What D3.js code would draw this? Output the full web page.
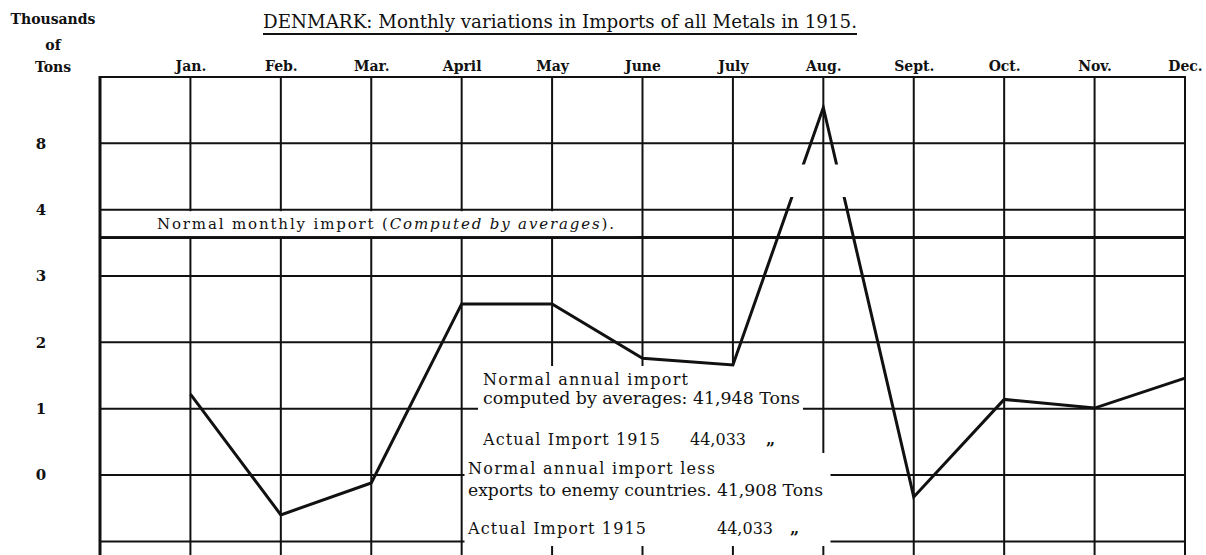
<!DOCTYPE html>
<html>
<head>
<meta charset="utf-8">
<script src="https://cdn.jsdelivr.net/npm/d3@7"></script>
<style>
	body { margin: 0; background: #fff; }
	svg { display: block; }
	text { fill: #111; font-family: "DejaVu Serif", "Liberation Serif", serif; }
</style>
</head>
<body>
<script>

// values are read in grid units (one unit = one grid row)
var months      = ["Jan.", "Feb.", "Mar.", "April", "May", "June", "July", "Aug.", "Sept.", "Oct.", "Nov.", "Dec."];
var imports     = [1.22, -0.60, -0.12, 2.58, 2.58, 1.76, 1.66, 5.54, -0.33, 1.14, 1.01, 1.46];
var tickValues  = [0, 1, 2, 3, 4, 5];
var tickLabels  = ["0", "1", "2", "3", "4", "8"];
var gridValues  = [-1, 0, 1, 2, 3, 4, 5, 6];
var normalMonthly = 3.58;
var breakBand   = [4.19, 4.68];

var title = "DENMARK: Monthly variations in Imports of all Metals in 1915.";
var unitLabel = ["Thousands", "of", "Tons"];
var noteTop = ["Normal annual import", "computed by averages: 41,948 Tons", "Actual Import 1915", "44,033", "\u201e"];
var noteBottom = ["Normal annual import less", "exports to enemy countries. 41,908 Tons", "Actual Import 1915", "44,033", "\u201e"];

var width = 1206,
	height = 555;

var svg = d3.select("body")
	.append("svg")
	.attr("width", width)
	.attr("height", height);

var x = d3.scaleLinear().domain([-1, 11]).range([100, 1185]);
var y = d3.scaleLinear().domain([-1, 6]).range([541.4, 77]);

var ink = "#111";

// grid
var grid = svg.append("g").attr("class", "grid");

grid.selectAll("line.h")
	.data(gridValues)
	.enter()
	.append("line")
	.attr("class", "h")
	.attr("x1", x(-1))
	.attr("x2", x(11))
	.attr("y1", function(d) { return y(d); })
	.attr("y2", function(d) { return y(d); })
	.attr("stroke", ink)
	.attr("stroke-width", 2);

grid.selectAll("line.v")
	.data(d3.range(-1, months.length))
	.enter()
	.append("line")
	.attr("class", "v")
	.attr("x1", function(d) { return x(d); })
	.attr("x2", function(d) { return x(d); })
	.attr("y1", y(6) - 1)
	.attr("y2", height)
	.attr("stroke", ink)
	.attr("stroke-width", function(d) { return d === -1 ? 3 : 2; });

// normal monthly import line
grid.append("line")
	.attr("x1", x(-1))
	.attr("x2", x(11))
	.attr("y1", y(normalMonthly))
	.attr("y2", y(normalMonthly))
	.attr("stroke", ink)
	.attr("stroke-width", 3);

// white label patches pasted over the grid
var patches = svg.append("g").attr("fill", "#fff");

patches.append("rect")
	.attr("x", x(-1) + 2)
	.attr("y", y(4) + 1.5)
	.attr("width", 534)
	.attr("height", y(normalMonthly) - y(4) - 3);

patches.append("rect")
	.attr("x", 478)
	.attr("y", 366)
	.attr("width", 325)
	.attr("height", 88);

patches.append("rect")
	.attr("x", 464.5)
	.attr("y", 453)
	.attr("width", 366)
	.attr("height", 93);

// data line, broken near the August peak
var defs = svg.append("defs");
var clip = defs.append("clipPath").attr("id", "break");
clip.append("rect")
	.attr("x", 0).attr("y", 0)
	.attr("width", width)
	.attr("height", y(breakBand[1]));
clip.append("rect")
	.attr("x", 0).attr("y", y(breakBand[0]))
	.attr("width", width)
	.attr("height", height);

var line = d3.line()
	.x(function(d, i) { return x(i); })
	.y(function(d) { return y(d); });

svg.append("path")
	.datum(imports)
	.attr("d", line)
	.attr("clip-path", "url(#break)")
	.attr("fill", "none")
	.attr("stroke", ink)
	.attr("stroke-width", 3)
	.attr("stroke-linejoin", "miter");

// y axis labels
var yAxis = d3.axisLeft(y)
	.tickValues(tickValues)
	.tickSize(0)
	.tickFormat(function(d, i) { return tickLabels[i]; });

var yg = svg.append("g")
	.attr("transform", "translate(41,0)")
	.call(yAxis);
yg.select(".domain").remove();
yg.selectAll("text")
	.attr("x", 0)
	.attr("text-anchor", "middle")
	.attr("font-family", "DejaVu Serif")
	.attr("font-weight", "bold")
	.attr("font-size", 15)
	.attr("fill", ink);

// month labels
var xAxis = d3.axisTop(x)
	.tickValues(d3.range(months.length))
	.tickSize(0)
	.tickFormat(function(d) { return months[d]; });

var xg = svg.append("g")
	.attr("transform", "translate(0,71)")
	.call(xAxis);
xg.select(".domain").remove();
xg.selectAll("text")
	.attr("y", 0)
	.attr("dy", 0)
	.attr("font-family", "DejaVu Serif")
	.attr("font-weight", "bold")
	.attr("font-size", 14)
	.attr("fill", ink);

// title
svg.append("text")
	.attr("x", 263)
	.attr("y", 28)
	.attr("font-size", 19)
	.attr("textLength", 594)
	.attr("lengthAdjust", "spacingAndGlyphs")
	.text(title);

svg.append("line")
	.attr("x1", 263)
	.attr("x2", 857)
	.attr("y1", 34)
	.attr("y2", 34)
	.attr("stroke", ink)
	.attr("stroke-width", 2);

// unit label
svg.selectAll("text.unit")
	.data(unitLabel)
	.enter()
	.append("text")
	.attr("class", "unit")
	.attr("x", 53)
	.attr("y", function(d, i) { return [24, 50, 72][i]; })
	.attr("text-anchor", "middle")
	.attr("font-weight", "bold")
	.attr("font-size", 14)
	.text(function(d) { return d; });

// normal monthly import caption
var cap = svg.append("text")
	.attr("x", 157)
	.attr("y", 229)
	.attr("font-size", 15)
	.attr("textLength", 457)
	.attr("lengthAdjust", "spacing");
cap.append("tspan").text("Normal monthly import (");
cap.append("tspan").attr("font-style", "italic").text("Computed by averages");
cap.append("tspan").text(").");

// annual notes
function note(lines, x0, ys, widths, numX, markX) {
	var g = svg.append("g").attr("font-size", 16);
	g.append("text").attr("x", x0).attr("y", ys[0])
		.attr("textLength", widths[0]).attr("lengthAdjust", "spacing").text(lines[0]);
	g.append("text").attr("x", x0).attr("y", ys[1])
		.attr("textLength", widths[1]).attr("lengthAdjust", "spacingAndGlyphs").text(lines[1]);
	g.append("text").attr("x", x0).attr("y", ys[2])
		.attr("textLength", widths[2]).attr("lengthAdjust", "spacing").text(lines[2]);
	g.append("text").attr("x", numX).attr("y", ys[2]).text(lines[3]);
	g.append("text").attr("x", markX).attr("y", ys[2])
		.attr("font-weight", "bold").text(lines[4]);
}

note(noteTop, 483, [385, 404, 445], [205, 317, 177], 690, 766);
note(noteBottom, 468, [474, 496, 534], [247, 355, 178], 717, 790);

</script>
</body>
</html>
